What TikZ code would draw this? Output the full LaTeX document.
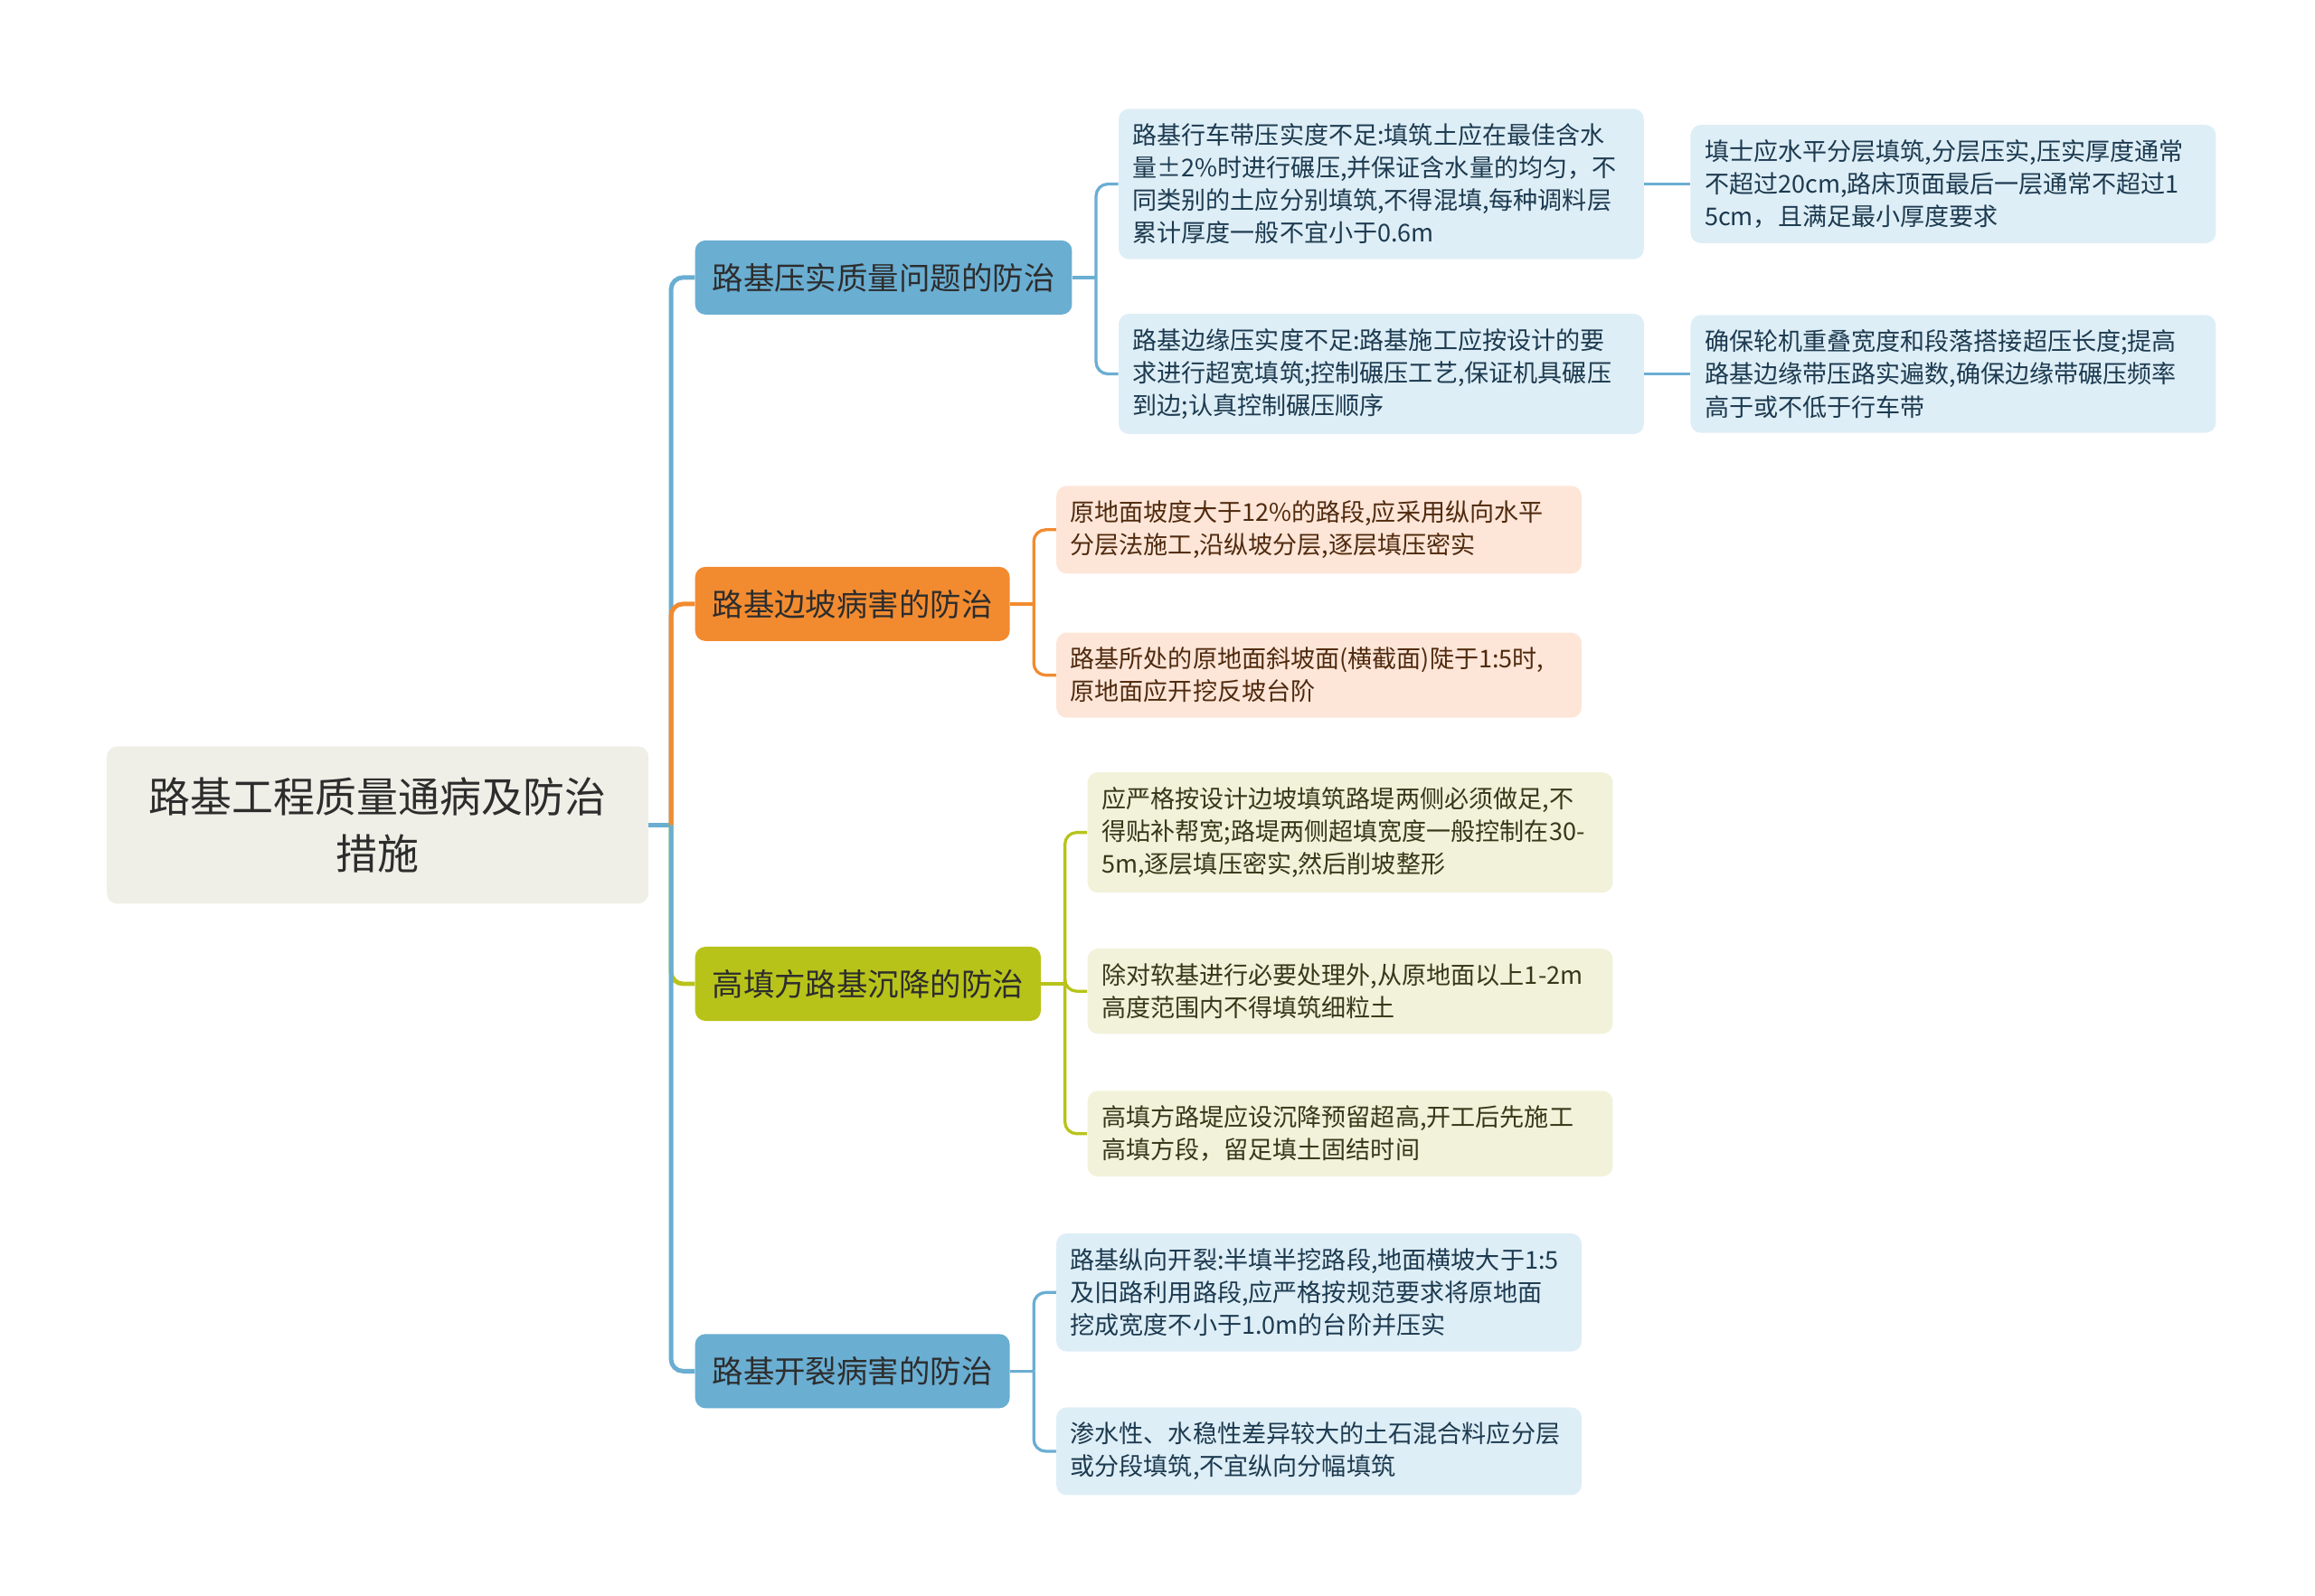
\documentclass[tikz,border=0pt]{standalone}
\usepackage{fontspec}
\setmainfont{Noto Sans CJK SC}
\usetikzlibrary{positioning}

\begin{document}
\begin{tikzpicture}[x=1pt,y=1pt,
	root node/.style={rectangle,rounded corners=7pt,fill=rootbg,text=darktext,align=center,
		text width=340pt,minimum width=365pt,minimum height=106pt,font=\fontsize{28}{38}\selectfont},
	branch node/.style={rectangle,rounded corners=7pt,inner xsep=11.5pt,inner ysep=0pt,
		minimum height=50pt,text=darktext,font=\fontsize{21}{24}\selectfont},
	leaf node/.style={rectangle,rounded corners=7pt,inner xsep=9.5pt,inner ysep=10pt,
		text width=335pt,align=left,font=\fontsize{16.5}{22}\selectfont},
	blue leaf/.style={leaf node,fill=blueleaf,text=bluetext},
	orange leaf/.style={leaf node,fill=orangeleaf,text=orangetext},
	olive leaf/.style={leaf node,fill=oliveleaf,text=olivetext},
	link/.style={line width=3pt,rounded corners=8pt},
	sublink/.style={line width=2pt,rounded corners=8pt}]
	
	\definecolor{rootbg}{RGB}{239,239,231}
	\definecolor{darktext}{RGB}{45,45,45}
	\definecolor{bluebr}{RGB}{106,174,210}
	\definecolor{orangebr}{RGB}{242,139,48}
	\definecolor{olivebr}{RGB}{184,195,26}
	\definecolor{blueleaf}{RGB}{222,238,246}
	\definecolor{orangeleaf}{RGB}{253,230,216}
	\definecolor{oliveleaf}{RGB}{242,242,218}
	\definecolor{bluetext}{RGB}{28,58,80}
	\definecolor{orangetext}{RGB}{80,42,14}
	\definecolor{olivetext}{RGB}{55,55,25}
	
	\useasboundingbox (0,0) rectangle (1560,-1075);
	
	\node[root node] (root) at (254.5,-556) {路基工程质量通病及防治\\措施};
	
	\node[branch node,fill=bluebr,right=31pt of root,yshift=369pt] (b1) {路基压实质量问题的防治};
	\node[branch node,fill=orangebr,right=31pt of root,yshift=149pt] (b2) {路基边坡病害的防治};
	\node[branch node,fill=olivebr,right=31pt of root,yshift=-107pt] (b3) {高填方路基沉降的防治};
	\node[branch node,fill=bluebr,right=31pt of root,yshift=-368pt] (b4) {路基开裂病害的防治};
	
	\node[blue leaf,right=31pt of b1,yshift=63pt] (c11) {路基行车带压实度不足:填筑土应在最佳含水\\量±2\%时进行碾压,并保证含水量的均匀，不\\同类别的土应分别填筑,不得混填,每种调料层\\累计厚度一般不宜小于0.6m};
	\node[blue leaf,right=31pt of b1,yshift=-65pt] (c12) {路基边缘压实度不足:路基施工应按设计的要\\求进行超宽填筑;控制碾压工艺,保证机具碾压\\到边;认真控制碾压顺序};
	\node[blue leaf,right=31pt of c11] (d11) {填士应水平分层填筑,分层压实,压实厚度通常\\不超过20cm,路床顶面最后一层通常不超过1\\5cm，且满足最小厚度要求};
	\node[blue leaf,right=31pt of c12] (d12) {确保轮机重叠宽度和段落搭接超压长度;提高\\路基边缘带压路实遍数,确保边缘带碾压频率\\高于或不低于行车带};
	
	\node[orange leaf,right=31pt of b2,yshift=50pt] (c21) {原地面坡度大于12\%的路段,应采用纵向水平\\分层法施工,沿纵坡分层,逐层填压密实};
	\node[orange leaf,right=31pt of b2,yshift=-48pt] (c22) {路基所处的原地面斜坡面(横截面)陡于1:5时,\\原地面应开挖反坡台阶};
	
	\node[olive leaf,right=31pt of b3,yshift=102pt] (c31) {应严格按设计边坡填筑路堤两侧必须做足,不\\得贴补帮宽;路堤两侧超填宽度一般控制在30-\\5m,逐层填压密实,然后削坡整形};
	\node[olive leaf,right=31pt of b3,yshift=-5pt] (c32) {除对软基进行必要处理外,从原地面以上1-2m\\高度范围内不得填筑细粒土};
	\node[olive leaf,right=31pt of b3,yshift=-101pt] (c33) {高填方路堤应设沉降预留超高,开工后先施工\\高填方段，留足填土固结时间};
	
	\node[blue leaf,right=31pt of b4,yshift=53pt] (c41) {路基纵向开裂:半填半挖路段,地面横坡大于1:5\\及旧路利用路段,应严格按规范要求将原地面\\挖成宽度不小于1.0m的台阶并压实};
	\node[blue leaf,right=31pt of b4,yshift=-54pt] (c42) {渗水性、水稳性差异较大的土石混合料应分层\\或分段填筑,不宜纵向分幅填筑};
	
	% root to branches
	\draw[link,bluebr] (root.east) -- ++(15pt,0) coordinate (rk);
	\draw[link,olivebr] (rk) |- (b3.west);
	\draw[link,bluebr] (rk) |- (b1.west);
	\draw[link,bluebr] (rk) |- (b4.west);
	\draw[link,orangebr] (rk) |- (b2.west);
	
	% branches to leaves
	\draw[sublink,bluebr] (b1.east) -- ++(16pt,0) coordinate (k1);
	\draw[sublink,bluebr] (k1) |- (c11.west);
	\draw[sublink,bluebr] (k1) |- (c12.west);
	\draw[sublink,bluebr] (c11.east) -- (d11.west);
	\draw[sublink,bluebr] (c12.east) -- (d12.west);
	
	\draw[sublink,orangebr] (b2.east) -- ++(16pt,0) coordinate (k2);
	\draw[sublink,orangebr] (k2) |- (c21.west);
	\draw[sublink,orangebr] (k2) |- (c22.west);
	
	\draw[sublink,olivebr] (b3.east) -- ++(16pt,0) coordinate (k3);
	\draw[sublink,olivebr] (k3) |- (c31.west);
	\draw[sublink,olivebr] (k3) |- (c32.west);
	\draw[sublink,olivebr] (k3) |- (c33.west);
	
	\draw[sublink,bluebr] (b4.east) -- ++(16pt,0) coordinate (k4);
	\draw[sublink,bluebr] (k4) |- (c41.west);
	\draw[sublink,bluebr] (k4) |- (c42.west);
\end{tikzpicture}
\end{document}
